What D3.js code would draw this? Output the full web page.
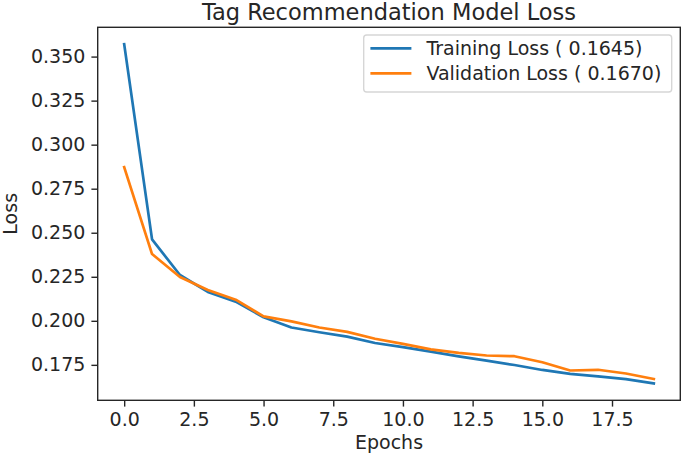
<!DOCTYPE html>
<html>
<head>
<meta charset="utf-8">
<script src="https://cdn.jsdelivr.net/npm/d3@7"></script>
<style>
  body { margin: 0; background: #fff; }
  text { font-family: "DejaVu Sans", sans-serif; fill: #262626; }
</style>
</head>
<body>
<script>
// Data
var epochs = d3.range(20);
var trainingLoss = [0.357, 0.2462, 0.2260, 0.2164, 0.2109, 0.2020, 0.1962, 0.1935, 0.1910,
                    0.1874, 0.1851, 0.1825, 0.1798, 0.1774, 0.1749, 0.1721, 0.1699, 0.1685,
                    0.1669, 0.1645];
var validationLoss = [0.2872, 0.2379, 0.2249, 0.2175, 0.2120, 0.2025, 0.1997, 0.1962, 0.1937,
                      0.1898, 0.1869, 0.1838, 0.1818, 0.1803, 0.1799, 0.1765, 0.1718, 0.1722,
                      0.1701, 0.1670];
var seriesNames = ["Training Loss ( 0.1645)", "Validation Loss ( 0.1670)"];
var seriesColors = ["#1f77b4", "#ff7f0e"];
var xTicks = [0, 2.5, 5, 7.5, 10, 12.5, 15, 17.5];
var yTicks = [0.175, 0.200, 0.225, 0.250, 0.275, 0.300, 0.325, 0.350];

//Width and height
var w = 685;
var h = 456;
var margin = {top: 27.3, right: 4.7, bottom: 55.7, left: 97.7};
var pw = w - margin.left - margin.right;
var ph = h - margin.top - margin.bottom;

var svg = d3.select("body")
            .append("svg")
            .attr("width", w)
            .attr("height", h);

var g = svg.append("g")
           .attr("transform", "translate(" + margin.left + "," + margin.top + ")");

//Scales with matplotlib-like 5% margins
var xPad = (d3.max(epochs) - d3.min(epochs)) * 0.05;
var x = d3.scaleLinear()
          .domain([d3.min(epochs) - xPad, d3.max(epochs) + xPad])
          .range([0, pw]);

var allY = trainingLoss.concat(validationLoss);
var yMin = d3.min(allY), yMax = d3.max(allY);
var yPad = (yMax - yMin) * 0.05;
var y = d3.scaleLinear()
          .domain([yMin - yPad, yMax + yPad])
          .range([ph, 0]);

//Axes
var xAxis = d3.axisBottom(x).tickValues(xTicks).tickFormat(d3.format(".1f"))
              .tickSize(6.3).tickPadding(6);
var yAxis = d3.axisLeft(y).tickValues(yTicks).tickFormat(d3.format(".3f"))
              .tickSize(6.3).tickPadding(6);

var gx = g.append("g").attr("transform", "translate(0," + ph + ")").call(xAxis);
var gy = g.append("g").call(yAxis);

[gx, gy].forEach(function(a) {
    a.select(".domain").remove();
    a.selectAll(".tick line").attr("stroke", "#262626").attr("stroke-width", 1.4);
    a.selectAll(".tick text").attr("font-size", "19px").attr("fill", "#262626");
});

//Lines
var line = d3.line()
             .x(function(d, i) { return x(epochs[i]); })
             .y(function(d) { return y(d); });

[trainingLoss, validationLoss].forEach(function(s, k) {
    g.append("path")
     .datum(s)
     .attr("d", line)
     .attr("fill", "none")
     .attr("stroke", seriesColors[k])
     .attr("stroke-width", 2.7)
     .attr("stroke-linejoin", "round")
     .attr("stroke-linecap", "square");
});

//Frame
g.append("rect")
 .attr("width", pw)
 .attr("height", ph)
 .attr("fill", "none")
 .attr("stroke", "#262626")
 .attr("stroke-width", 1.4);

//Title and axis labels
svg.append("text")
   .attr("x", margin.left + pw / 2)
   .attr("y", 19.5)
   .attr("text-anchor", "middle")
   .attr("font-size", "22.5px")
   .text("Tag Recommendation Model Loss");

svg.append("text")
   .attr("x", margin.left + pw / 2)
   .attr("y", 449)
   .attr("text-anchor", "middle")
   .attr("font-size", "19px")
   .text("Epochs");

svg.append("text")
   .attr("transform", "translate(17," + (margin.top + ph / 2) + ") rotate(-90)")
   .attr("text-anchor", "middle")
   .attr("font-size", "19px")
   .text("Loss");

//Legend (upper right)
var legW = 308, legH = 57;
var leg = g.append("g")
           .attr("transform", "translate(" + (pw - 8.6 - legW) + ",7.7)");

leg.append("rect")
   .attr("width", legW)
   .attr("height", legH)
   .attr("rx", 3)
   .attr("fill", "#fff")
   .attr("fill-opacity", 0.8)
   .attr("stroke", "#d6d6d6")
   .attr("stroke-width", 1.4);

seriesNames.forEach(function(name, k) {
    var yy = 13.3 + k * 25;
    leg.append("line")
       .attr("x1", 6.7).attr("x2", 47.7)
       .attr("y1", yy).attr("y2", yy)
       .attr("stroke", seriesColors[k])
       .attr("stroke-width", 2.7);
    leg.append("text")
       .attr("x", 62.7)
       .attr("y", yy + 6.8)
       .attr("font-size", "19px")
       .text(name);
});
</script>
</body>
</html>
